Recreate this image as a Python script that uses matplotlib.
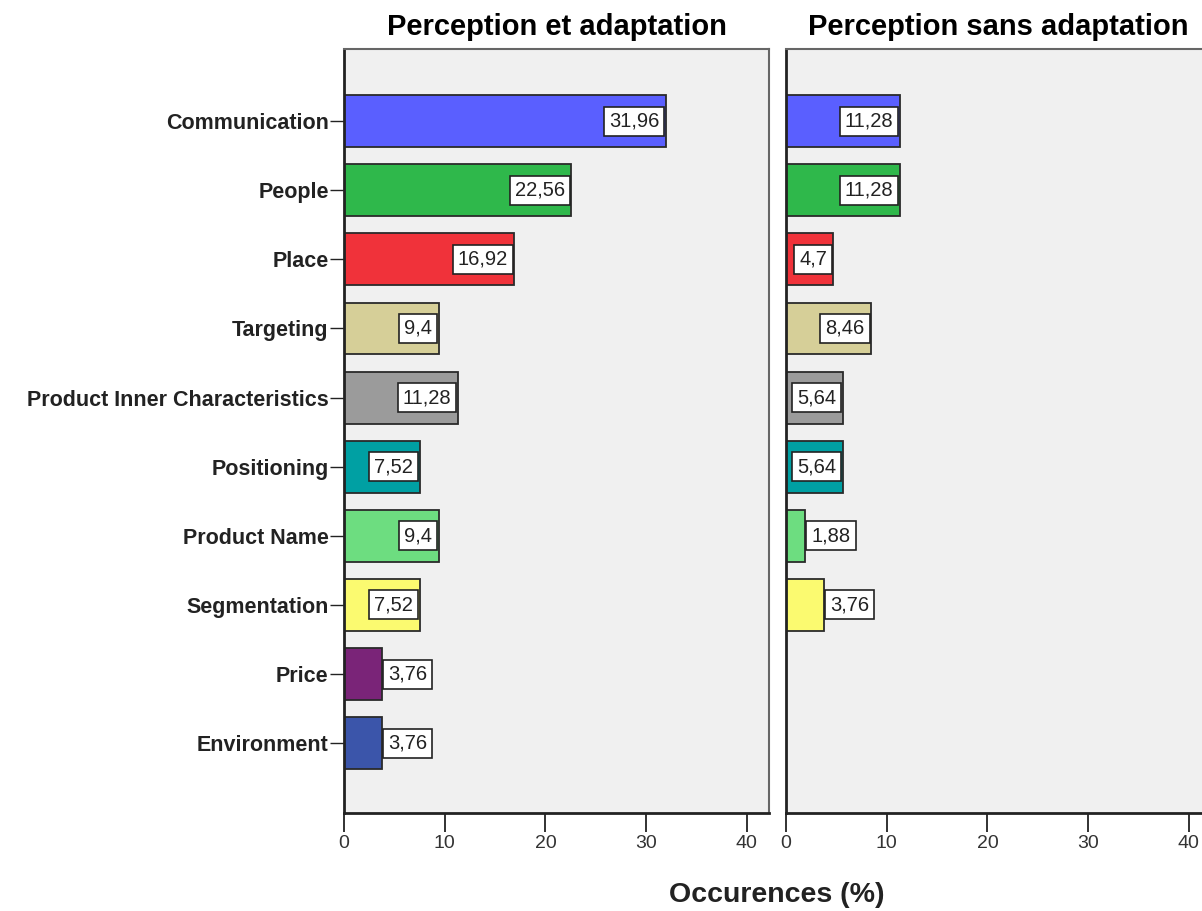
"""
Occurrences (%) per marketing dimension, with and without adaptation.
Two horizontal bar panels sharing the same category axis.
"""

import matplotlib.pyplot as plt
import numpy as np

plt.rcParams['font.family'] = ['Liberation Sans', 'DejaVu Sans']

categories = ["Communication", "People", "Place", "Targeting",
              "Product Inner Characteristics", "Positioning", "Product Name",
              "Segmentation", "Price", "Environment"]
avec_adapt = [31.96, 22.56, 16.92, 9.4, 11.28, 7.52, 9.4, 7.52, 3.76, 3.76]
sans_adapt = [11.28, 11.28, 4.7, 8.46, 5.64, 5.64, 1.88, 3.76, 0, 0]
titles = ["Perception et adaptation", "Perception sans adaptation"]
colors = ['#5a5fff', '#2fb84b', '#f0323a', '#d6cf98', '#9b9b9b',
          '#00a0a3', '#6ddd80', '#fbfa70', '#7a2478', '#3b55aa']

W, H = 1202, 911
fig = plt.figure(figsize=(W / 100, H / 100), dpi=100)

ypos = np.arange(len(categories))
PAD = 0.25  # box padding, in fontsize units
FS = 14.5

def panel(x0, values, title, show_labels):
    ax = fig.add_axes([x0 / W, (H - 813) / H, 425 / W, 764 / H])
    ax.set_facecolor('#f0f0f0')
    ax.barh(ypos, values, height=0.75, color=colors,
            edgecolor='#2a2a2a', linewidth=1.3, zorder=2)
    ax.set_xlim(0, 42.2)
    ax.set_ylim(10.01, -1.043)
    ax.set_xticks([0, 10, 20, 30, 40])
    ax.tick_params(axis='x', direction='out', length=14, width=1.3,
                   colors='#222222', labelsize=14, pad=2,
                   labelcolor='#333333')
    if show_labels:
        ax.set_yticks(ypos)
        ax.set_yticklabels(categories, fontweight='bold', fontsize=15.5)
        ax.tick_params(axis='y', direction='out', length=10, width=1.0,
                       colors='#222222', pad=1)
    else:
        ax.set_yticks([])
    for side in ['top', 'right']:
        ax.spines[side].set_color('#666666')
        ax.spines[side].set_linewidth(1.5)
    for side in ['left', 'bottom']:
        ax.spines[side].set_color('#222222')
        ax.spines[side].set_linewidth(2)
    ax.set_title(title, fontweight='bold', fontsize=21, pad=10)

    off = PAD * FS + 1
    for y, v in zip(ypos, values):
        if v == 0:
            continue
        txt = f"{v:g}".replace('.', ',')
        inside = v > 4.5
        ax.annotate(txt, (v, y), xytext=(-off if inside else off, 0),
                    textcoords='offset points',
                    ha='right' if inside else 'left', va='center',
                    fontsize=FS, color='#222222', zorder=4,
                    bbox=dict(boxstyle=f'square,pad={PAD}', fc='white',
                              ec='#222222', lw=1.2))
    return ax

panel(344, avec_adapt, titles[0], True)
panel(786, sans_adapt, titles[1], False)

fig.text(777 / W, 1 - 895 / H, "Occurences (%)", ha='center', va='center',
         fontweight='bold', fontsize=20.5, color='#222222')

fig.savefig('out.png', dpi=100, facecolor='white')
